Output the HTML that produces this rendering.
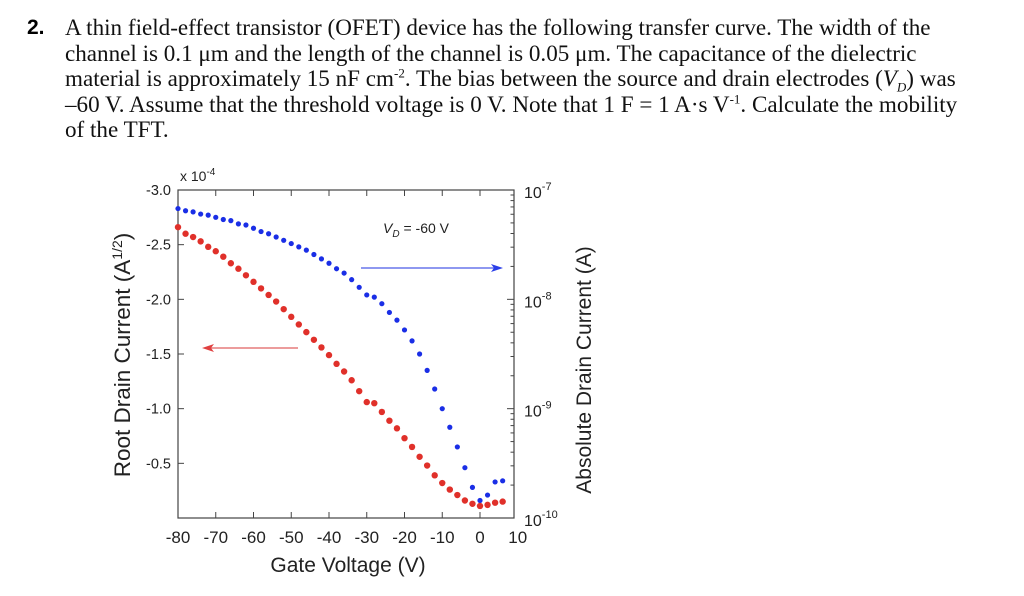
<!DOCTYPE html>
<html><head><meta charset="utf-8"><style>
body{margin:0;width:1024px;height:596px;background:#fff;overflow:hidden;position:relative;font-family:"Liberation Serif",serif}
.q{position:absolute;left:65px;top:15px;font-size:23.1px;line-height:25.5px;color:#111;width:955px;white-space:nowrap}
.q sup,.q sub{line-height:0;font-size:13px}
.n{position:absolute;left:27px;top:15px;font-size:21px;line-height:25.5px;font-family:"Liberation Sans",sans-serif;font-weight:bold}
svg{position:absolute;left:0;top:0}
</style></head><body>
<div class="n">2.</div>
<div class="q">A thin field-effect transistor (OFET) device has the following transfer curve. The width of the<br>channel is 0.1 μm and the length of the channel is 0.05 μm. The capacitance of the dielectric<br>material is approximately 15 nF cm<sup>-2</sup>. The bias between the source and drain electrodes (<i>V<sub>D</sub></i>) was<br>–60 V. Assume that the threshold voltage is 0 V. Note that 1 F = 1 A·s V<sup>-1</sup>. Calculate the mobility<br>of the TFT.</div>
<svg id="chart" width="1024" height="596" font-family="Liberation Sans, sans-serif"></svg>
<script>
const xVals=[-80,-78,-76,-74,-72,-70,-68,-66,-64,-62,-60,-58,-56,-54,-52,-50,-48,-46,-44,-42,-40,-38,-36,-34,-32,-30,-28,-26,-24,-22,-20,-18,-16,-14,-12,-10,-8,-6,-4,-2,0,2,4,6];
const rootVals=[2.66,2.60,2.57,2.53,2.48,2.44,2.39,2.33,2.28,2.22,2.16,2.10,2.04,1.98,1.91,1.84,1.77,1.70,1.63,1.56,1.49,1.41,1.34,1.26,1.16,1.06,1.05,0.97,0.89,0.82,0.73,0.65,0.56,0.48,0.39,0.32,0.26,0.21,0.16,0.13,0.11,0.12,0.14,0.15];
const logVals=[-7.17,-7.19,-7.20,-7.22,-7.23,-7.25,-7.27,-7.28,-7.31,-7.32,-7.35,-7.38,-7.40,-7.43,-7.46,-7.49,-7.52,-7.55,-7.59,-7.63,-7.67,-7.72,-7.76,-7.82,-7.89,-7.96,-7.98,-8.04,-8.12,-8.19,-8.28,-8.38,-8.50,-8.65,-8.82,-9.00,-9.17,-9.35,-9.54,-9.72,-9.84,-9.79,-9.67,-9.66];
const xTicks=[-80,-70,-60,-50,-40,-30,-20,-10,0,10];
const yTicks=[3.0,2.5,2.0,1.5,1.0,0.5];
const yTickLabels=["-3.0","-2.5","-2.0","-1.5","-1.0","-0.5"];
const logTicks=[-7,-8,-9,-10];

const svg=document.getElementById('chart');
const NS='http://www.w3.org/2000/svg';
const L=178,R=514,T=190,B=518;
const xs=v=>L+(v+80)*(480-L)/80;
const ys=v=>B-v*(B-T)/3;
const ls=v=>B-(v+10)*(B-T)/3;
function mk(tag,a,parent){const e=document.createElementNS(NS,tag);for(const k in a)e.setAttribute(k,a[k]);(parent||svg).appendChild(e);return e;}
function txt(x,y,s,size,anchor,name){const t=mk('text',{x:x,y:y,'font-size':size,'text-anchor':anchor||'middle',fill:'#222'});t.textContent=s;


return t;}
const frame=mk('rect',{x:L,y:T,width:R-L,height:B-T,fill:'none',stroke:'#444','stroke-width':1.2});


xTicks.forEach(v=>{const x=xs(v);if(x<=R){mk('line',{x1:x,y1:B,x2:x,y2:B-6,stroke:'#444'});mk('line',{x1:x,y1:T,x2:x,y2:T+6,stroke:'#444'});}
txt(x,543,String(v),17,'middle','x-tick-label');});
yTicks.forEach((v,i)=>{const y=ys(v);mk('line',{x1:L,y1:y,x2:L+6,y2:y,stroke:'#444'});txt(L-7,y+5,yTickLabels[i],14.5,'end','y-tick-label');});
logTicks.forEach(d=>{const y=ls(d);mk('line',{x1:R,y1:y,x2:R-7,y2:y,stroke:'#444'});
const t=txt(R+10,y+8,'10',16,'start','y2-tick-label');const s=mk('tspan',{dy:-8,'font-size':11},t);s.textContent=String(d);
if(d>-10){for(let k=2;k<10;k++){const yy=ls(d-1+Math.log10(k));mk('line',{x1:R,y1:yy,x2:R-3.5,y2:yy,stroke:'#444'});}}});
const mul=txt(180,181,'x 10',14,'start','y-multiplier');const ms=mk('tspan',{dy:-6,'font-size':10},mul);ms.textContent='-4';
xVals.forEach((x,i)=>{const c=mk('circle',{cx:xs(x),cy:ls(logVals[i]),r:2.6,fill:'#1a2ee6'});

});
xVals.forEach((x,i)=>{const c=mk('circle',{cx:xs(x),cy:ys(rootVals[i]),r:3.2,fill:'#e0302a'});

});
const ba=mk('g',{});
mk('line',{x1:361,y1:268,x2:496,y2:268,stroke:'#4a5ae8','stroke-width':1.3},ba);mk('polygon',{points:'503,268 491,264 494,268 491,272',fill:'#2a3ee8'},ba);
const ra=mk('g',{});
mk('line',{x1:298,y1:348,x2:210,y2:348,stroke:'#e06060','stroke-width':1.3},ra);mk('polygon',{points:'202,348 214,344 211,348 214,352',fill:'#e04040'},ra);
const vd=txt(383,233,'',14,'start','vd-label');const v1=mk('tspan',{'font-style':'italic'},vd);v1.textContent='V';const v2=mk('tspan',{'font-style':'italic',dy:4,'font-size':10},vd);v2.textContent='D';const v3=mk('tspan',{dy:-4},vd);v3.textContent=' = -60 V';
txt(348,572,'Gate Voltage (V)',21,'middle','x-axis-title');
const yt=txt(0,0,'Root Drain Current (A',22.5,'middle','y-axis-title');yt.setAttribute('transform','translate(130,355) rotate(-90)');
const sp=mk('tspan',{dy:-8,'font-size':14},yt);sp.textContent='1/2';const sp2=mk('tspan',{dy:8},yt);sp2.textContent=')';
const y2=txt(0,0,'Absolute Drain Current (A)',21,'middle','y2-axis-title');y2.setAttribute('transform','translate(591,370) rotate(-90)');
</script>
</body></html>
